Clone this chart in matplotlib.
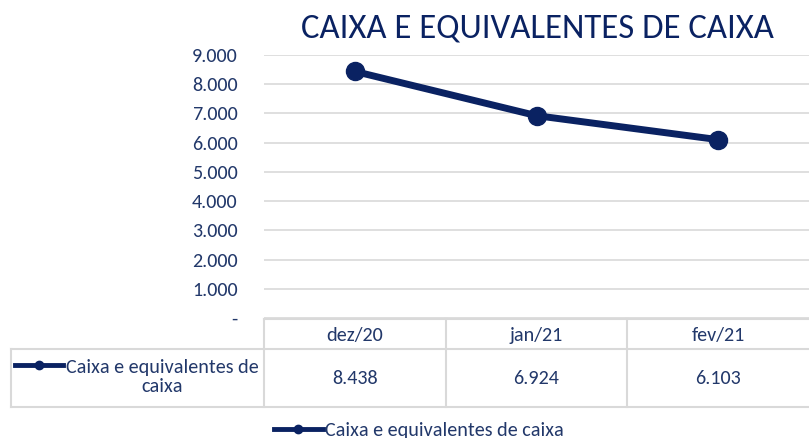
import matplotlib
matplotlib.use('Agg')
import matplotlib.pyplot as plt
from matplotlib.lines import Line2D

categories = ['dez/20', 'jan/21', 'fev/21']
values = [8438, 6924, 6103]
series_name = 'Caixa e equivalentes de caixa'
table_label = 'Caixa e equivalentes de\ncaixa'
title = 'CAIXA E EQUIVALENTES DE CAIXA'
yticks = [0, 1000, 2000, 3000, 4000, 5000, 6000, 7000, 8000, 9000]

NAVY = '#0A2262'
TEXT = '#22386A'
GRID = '#D9D9D9'
FS = 14.5
plt.rcParams['font.family'] = ['Carlito', 'DejaVu Sans']


def fmt(v):
    return '-' if v == 0 else f'{v:,.0f}'.replace(',', '.')


W, H = 809, 438
fig = plt.figure(figsize=(W / 100, H / 100), dpi=100)


def fx(px):
    return px / W


def fy(py):
    return 1 - py / H


ax = fig.add_axes([fx(264), fy(318), fx(809) - fx(264), fy(55) - fy(318)])
x = list(range(len(categories)))
ax.plot(x, values, color=NAVY, lw=5, marker='o', ms=13, solid_capstyle='round', zorder=3)
ax.set_xlim(-0.5, len(categories) - 0.5)
ax.set_ylim(0, 9000)
ax.set_yticks(yticks)
ax.set_yticklabels([fmt(v) for v in yticks])
ax.set_xticks([])
for s in ax.spines.values():
    s.set_visible(False)
ax.grid(axis='y', color=GRID, lw=1.2)
ax.set_axisbelow(True)
ax.tick_params(axis='y', length=0, pad=19, labelcolor=TEXT, labelsize=FS)

fig.text(fx(537), fy(28), title, ha='center', va='center', color=NAVY, fontsize=25)

# data table
edges = [ax.transData.transform((i - 0.5, 0))[0] for i in range(len(categories) + 1)]
top, mid, bot = 319, 349, 407
left = 11


def hline(x0, x1, y):
    fig.add_artist(Line2D([fx(x0), fx(x1)], [fy(y), fy(y)], color=GRID, lw=1.5, transform=fig.transFigure))


def vline(xp, y0, y1):
    fig.add_artist(Line2D([fx(xp), fx(xp)], [fy(y0), fy(y1)], color=GRID, lw=1.5, transform=fig.transFigure))


hline(edges[0], W, top)
hline(left, W, mid)
hline(left, W, bot)
vline(left, mid, bot)
for e in edges[:-1]:
    vline(e, top, bot)

for i, (c, v) in enumerate(zip(categories, values)):
    xc = ax.transData.transform((i, 0))[0]
    fig.text(fx(xc), fy((top + mid) / 2 + 1), c, ha='center', va='center', color=TEXT, fontsize=FS)
    fig.text(fx(xc), fy((mid + bot) / 2 + 1), fmt(v), ha='center', va='center', color=TEXT, fontsize=FS)

fig.add_artist(Line2D([fx(15), fx(39), fx(63)], [fy(365)] * 3, color=NAVY, lw=3.5, marker='o', ms=6,
                      markevery=[1], transform=fig.transFigure))
fig.text(fx(162), fy(377), table_label, ha='center', va='center', multialignment='center',
         color=TEXT, fontsize=FS, linespacing=1.15)

# legend
handle = Line2D([], [], color=NAVY, lw=3.5, marker='o', ms=6)
fig.legend(handles=[handle], labels=[series_name], loc='center', bbox_to_anchor=(fx(419), fy(430)),
           bbox_transform=fig.transFigure, frameon=False, handlelength=2.4, handletextpad=0.12,
           fontsize=FS, labelcolor=TEXT, numpoints=1, borderpad=0.2)

fig.savefig('out.png', dpi=100)
